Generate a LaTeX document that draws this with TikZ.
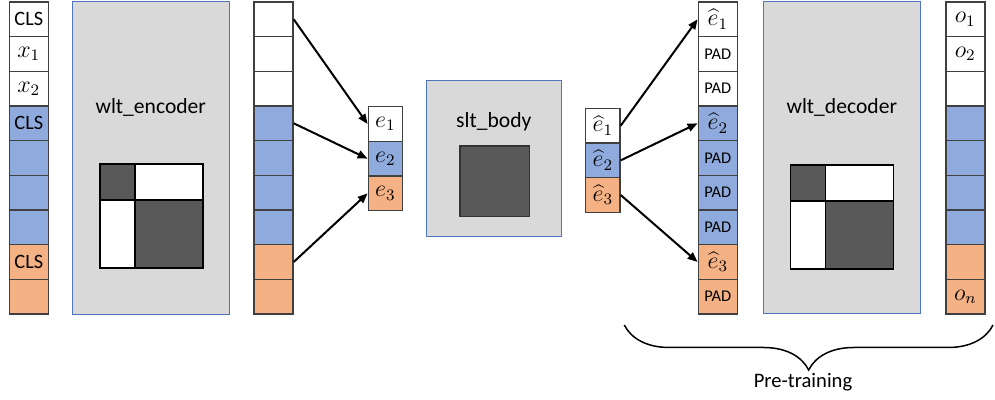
\documentclass[tikz,border=0pt]{standalone}
\usepackage{fontspec}
\setmainfont{Carlito}
\usetikzlibrary{arrows.meta,decorations.pathreplacing}

\definecolor{tokblue}{HTML}{8FAADC}
\definecolor{tokorange}{HTML}{F4B183}
\definecolor{boxgray}{HTML}{D9D9D9}
\definecolor{boxedge}{HTML}{4F75BC}
\definecolor{maskdark}{HTML}{595959}
\definecolor{celledge}{HTML}{404040}

\newcommand\padtxt{{\fontsize{8.2}{9}\selectfont PAD}}
\newcommand\tok[1]{{\fontsize{11.5}{13}\selectfont$#1$}}

\begin{document}
\begin{tikzpicture}[x=0.5pt,y=-0.5pt,
        cell/.style={draw=celledge,line width=0.7pt,minimum width=19.5pt,minimum height=17.33pt,
            inner sep=0pt,font=\fontsize{10.2}{12}\selectfont},
        block/.style={draw=boxedge,line width=0.5pt,fill=boxgray,inner sep=0pt},
        title/.style={font=\fontsize{10.8}{12}\selectfont},
        link/.style={->,line width=1pt},
        >={Triangle[length=5pt,width=4pt]}]
    \useasboundingbox (0,0) rectangle (995,400);

    % gray blocks with their labels
    \node[block,minimum width=78.2pt,minimum height=156.5pt] (enc) at (150.8,158.5) {};
    \node[block,minimum width=67.8pt,minimum height=78pt] (body) at (493.8,158.7) {};
    \node[block,minimum width=78.5pt,minimum height=156pt] (dec) at (841.8,158) {};
    \node[title] (enclbl) at (150.8,107) {wlt\_encoder};
    \node[title] (bodylbl) at (493.8,121.7) {slt\_body};
    \node[title] (declbl) at (841.8,107) {wlt\_decoder};

    % attention masks
    \foreach \mx/\my in {100/164, 790.7/165}{
        \fill[maskdark] (\mx,\my) rectangle ++(103,104);
        \fill[white] ({\mx+35},\my) rectangle ++(68,36);
        \fill[white] (\mx,{\my+36}) rectangle ++(35,68);
        \draw[line width=0.7pt] (\mx,\my) rectangle ++(103,104)
            ({\mx+35},\my) -- ++(0,104) (\mx,{\my+36}) -- ++(103,0);
    }
    \node[draw=black!80,line width=0.7pt,fill=maskdark,minimum width=34.7pt,minimum height=35.3pt] (bodymask) at (494.7,181.3) {};

    % token columns
    \foreach \i/\c/\t in {1/white/CLS,2/white/\tok{x_1},3/white/\tok{x_2},4/tokblue/CLS,5/tokblue/{},
            6/tokblue/{},7/tokblue/{},8/tokorange/CLS,9/tokorange/{}}{
        \node[cell,fill=\c] (in\i) at (28.8,{19.3+34.67*(\i-1)}) {\t};
    }
    \foreach \i/\c in {1/white,2/white,3/white,4/tokblue,5/tokblue,6/tokblue,7/tokblue,8/tokorange,9/tokorange}{
        \node[cell,fill=\c] (hid\i) at (273.5,{19.3+34.67*(\i-1)}) {};
    }
    \foreach \i/\c in {1/white,2/tokblue,3/tokorange}{
        \node[cell,fill=\c,minimum width=17pt] (e\i) at (385.3,{124+34.67*(\i-1)}) {\tok{e_{\i}}};
        \node[cell,fill=\c,minimum width=17.2pt] (eh\i) at (602.8,{125.7+34.67*(\i-1)}) {\tok{\widehat{e}_{\i}}};
    }
    \foreach \i/\c/\t in {1/white/\tok{\widehat{e}_1},2/white/\padtxt,3/white/\padtxt,4/tokblue/\tok{\widehat{e}_2},
            5/tokblue/\padtxt,6/tokblue/\padtxt,7/tokblue/\padtxt,8/tokorange/\tok{\widehat{e}_3},9/tokorange/\padtxt}{
        \node[cell,fill=\c] (pad\i) at (717.8,{19.3+34.67*(\i-1)}) {\t};
    }
    \foreach \i/\c/\t in {1/white/\tok{o_1},2/white/\tok{o_2},3/white/{},4/tokblue/{},5/tokblue/{},
            6/tokblue/{},7/tokblue/{},8/tokorange/{},9/tokorange/\tok{o_n}}{
        \node[cell,fill=\c] (out\i) at (965.3,{19.3+34.67*(\i-1)}) {\t};
    }

    % pooling and unpooling arrows
    \draw[link] (hid1.east) -- (e1.west);
    \draw[link] (hid4.east) -- (e2.west);
    \draw[link] (hid8.east) -- (e3.west);
    \draw[link] (eh1.east) -- (pad1.west);
    \draw[link] (eh2.east) -- (pad4.west);
    \draw[link] (eh3.east) -- (pad8.west);

    % brace under the decoder side
    \coordinate (bl) at (624.3,325);
    \coordinate (br) at (993,325);
    \draw[line width=0.75pt,decorate,decoration={brace,mirror,amplitude=22.5pt}] (bl) -- (br);
    \node[font=\fontsize{10.3}{12}\selectfont] (pretrain) at (803,381.7) {Pre-training};
\end{tikzpicture}
\end{document}
